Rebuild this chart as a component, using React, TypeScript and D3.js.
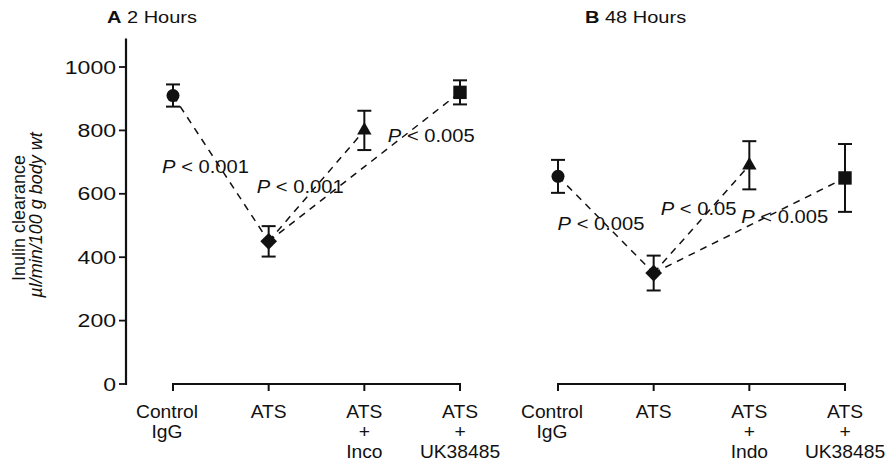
import React from 'react';
import * as d3 from 'd3';

// values (inulin clearance, µl/min/100 g body wt)
const labelsA = [['Control', 'IgG'], ['ATS'], ['ATS', '+', 'Inco'], ['ATS', '+', 'UK38485']];
const labelsB = [['Control', 'IgG'], ['ATS'], ['ATS', '+', 'Indo'], ['ATS', '+', 'UK38485']];
const meansA = [910, 450, 800, 920];
const errorsA = [35, 48, 62, 38];
const meansB = [655, 350, 690, 650];
const errorsB = [52, 55, 76, 107];
const markerTypes = ['circle', 'diamond', 'triangle', 'square'];
const comparisons = [[0, 1], [1, 2], [1, 3]];
const pTextA = ['0.001', '0.001', '0.005'];
const pTextB = ['0.005', '0.05', '0.005'];
const yTicks = [0, 200, 400, 600, 800, 1000];

// where the P labels sit, in (category index, value) units
const pPlaceA = [[0.34, 666], [1.33, 603], [2.70, 763]];
const pPlaceB = [[0.45, 486], [1.47, 533], [2.37, 508]];

const W = 887;
const H = 464;
const FONT = '"Liberation Sans", Arial, Helvetica, sans-serif';

const y = d3.scaleLinear().domain([0, 1000]).range([384, 67]);
const yAxisTop = 1090;

const symbolFor = (t: string) => {
  if (t === 'circle') return d3.symbol().type(d3.symbolCircle).size(133)();
  if (t === 'diamond') return d3.symbol().type(d3.symbolSquare).size(140)();
  if (t === 'triangle') return d3.symbol().type(d3.symbolTriangle).size(90)();
  return d3.symbol().type(d3.symbolSquare).size(180)();
};

// horizontally widened text, like the scanned figure
const Txt = ({ x, y: ty, sx = 1.15, size = 18, anchor = 'middle', weight = 'normal', children }: any) => (
  <text
    transform={`translate(${x},${ty}) scale(${sx},1)`}
    textAnchor={anchor}
    fontSize={size}
    fontWeight={weight}
    fontFamily={FONT}
    fill="#111"
  >
    {children}
  </text>
);

const Panel = ({ range, labels, means, errors, pText, pPlace, title, titleX }: any) => {
  const x = d3.scalePoint<number>().domain(d3.range(4)).range(range);
  const step = x.step();
  const x0 = x(0) as number;
  const x3 = x(3) as number;
  const baseY = y(0);

  return (
    <g>
      <Txt x={titleX} y={23} size={16} sx={1.25} anchor="start">
        <tspan fontWeight="bold">{title[0]}</tspan>
        {' ' + title[1]}
      </Txt>

      {/* category axis */}
      <line x1={x0} x2={x3} y1={baseY} y2={baseY} stroke="#111" strokeWidth={2.2} />
      {d3.range(4).map((i) => (
        <line key={i} x1={x(i)} x2={x(i)} y1={baseY - 1} y2={baseY + 7} stroke="#111" strokeWidth={2} />
      ))}
      {labels.map((lines: string[], i: number) =>
        lines.map((s, j) => (
          <Txt key={i + '-' + j} x={(x(i) as number) - (i === 0 ? 6 : 0)} y={418 + j * 20} sx={1.1} size={17.5}>
            {s}
          </Txt>
        ))
      )}

      {/* dashed comparison lines */}
      {comparisons.map(([a, b], k) => (
        <line
          key={k}
          x1={x(a)}
          y1={y(means[a])}
          x2={x(b)}
          y2={y(means[b])}
          stroke="#111"
          strokeWidth={1.5}
          strokeDasharray="7,6"
        />
      ))}

      {/* error bars */}
      {means.map((m: number, i: number) => {
        const cx = x(i) as number;
        return (
          <g key={i} stroke="#111" strokeWidth={2}>
            <line x1={cx} x2={cx} y1={y(m - errors[i])} y2={y(m + errors[i])} />
            <line x1={cx - 7} x2={cx + 7} y1={y(m + errors[i])} y2={y(m + errors[i])} />
            <line x1={cx - 7} x2={cx + 7} y1={y(m - errors[i])} y2={y(m - errors[i])} />
          </g>
        );
      })}

      {/* markers */}
      {means.map((m: number, i: number) => (
        <path
          key={i}
          d={symbolFor(markerTypes[i]) as string}
          transform={`translate(${x(i)},${y(m)})${markerTypes[i] === 'diamond' ? ' rotate(45)' : ''}`}
          fill="#111"
        />
      ))}

      {/* P values */}
      {pText.map((p: string, k: number) => (
        <Txt key={k} x={x0 + pPlace[k][0] * step} y={y(pPlace[k][1])} sx={1.12}>
          <tspan fontStyle="italic">P</tspan>
          {' < ' + p}
        </Txt>
      ))}
    </g>
  );
};

export default function App() {
  return (
    <svg width={W} height={H} style={{ position: 'absolute', left: 0, top: 0, background: '#fff' }}>
      <rect width={W} height={H} fill="#fff" />

      {/* value axis (panel A only) */}
      <line x1={126} x2={126} y1={y(yAxisTop)} y2={y(0) + 1} stroke="#111" strokeWidth={2.2} />
      {yTicks.map((t) => (
        <g key={t}>
          <line x1={119} x2={126} y1={y(t)} y2={y(t)} stroke="#111" strokeWidth={1.8} />
          <Txt x={116} y={y(t) + 6.5} sx={1.28} anchor="end">
            {t}
          </Txt>
        </g>
      ))}
      <text transform="translate(25,218) rotate(-90)" textAnchor="middle" fontSize={18} fontFamily={FONT} fill="#111">
        Inulin clearance
      </text>
      <text
        transform="translate(42,215) rotate(-90)"
        textAnchor="middle"
        fontSize={18}
        fontStyle="italic"
        fontFamily={FONT}
        fill="#111"
      >
        µl/min/100 g body wt
      </text>

      <Panel
        range={[173, 460]}
        labels={labelsA}
        means={meansA}
        errors={errorsA}
        pText={pTextA}
        pPlace={pPlaceA}
        title={['A', '2 Hours']}
        titleX={107}
      />
      <Panel
        range={[558, 845]}
        labels={labelsB}
        means={meansB}
        errors={errorsB}
        pText={pTextB}
        pPlace={pPlaceB}
        title={['B', '48 Hours']}
        titleX={585}
      />
    </svg>
  );
}
